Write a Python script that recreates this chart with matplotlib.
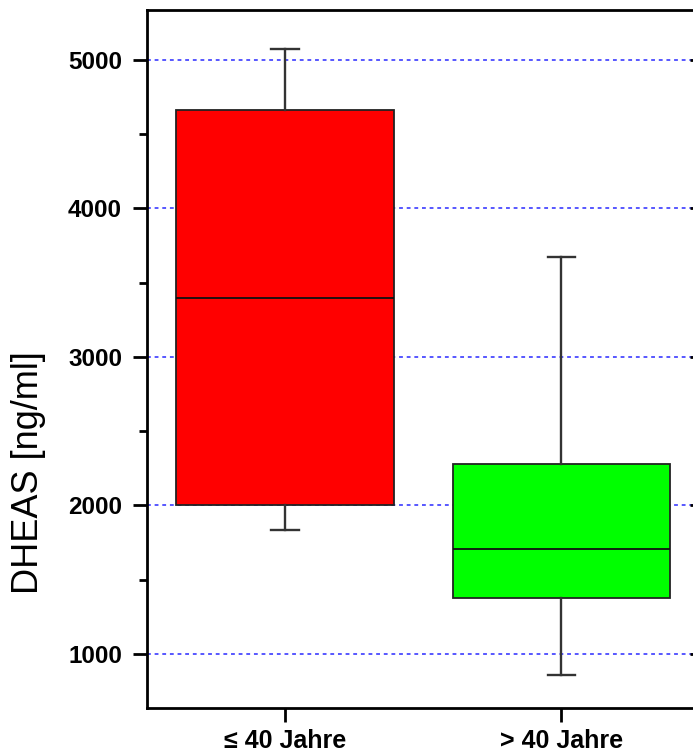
import matplotlib
matplotlib.use("Agg")
import matplotlib.pyplot as plt
from matplotlib.ticker import MultipleLocator

plt.rcParams['font.family'] = ['Liberation Sans', 'DejaVu Sans']

# box statistics (ng/ml)
groups = ["\u2264 40 Jahre", "> 40 Jahre"]
whisker_low = [1832, 859]
q1 = [2005, 1380]
median = [3394, 1710]
q3 = [4663, 2276]
whisker_high = [5074, 3670]
box_colors = ["#ff0000", "#00ff00"]

stats = []
for i, name in enumerate(groups):
    stats.append({
        "label": name,
        "whislo": whisker_low[i],
        "q1": q1[i],
        "med": median[i],
        "q3": q3[i],
        "whishi": whisker_high[i],
    })

fig = plt.figure(figsize=(6.93, 7.56), dpi=100)
ax = fig.add_axes([0.2121, 0.0635, 0.7973, 0.9233])

bp = ax.bxp(
    stats, positions=[1, 2], widths=0.787, patch_artist=True,
    showfliers=False, capwidths=0.1,
    boxprops=dict(edgecolor="#222222", linewidth=1.3),
    medianprops=dict(color="#111111", linewidth=1.3),
    whiskerprops=dict(color="#333333", linewidth=1.7),
    capprops=dict(color="#333333", linewidth=1.7),
)
for patch, c in zip(bp["boxes"], box_colors):
    patch.set_facecolor(c)
    patch.set_zorder(3)
for key in ("medians", "whiskers", "caps"):
    for ln in bp[key]:
        ln.set_zorder(4)

ax.set_xlim(0.5, 2.5)
ax.set_ylim(636, 5337)
ax.yaxis.set_major_locator(MultipleLocator(1000))
ax.yaxis.set_minor_locator(MultipleLocator(500))
ax.set_yticks([1000, 2000, 3000, 4000, 5000])
ax.set_xticks([1, 2])
ax.set_xticklabels(groups)

ax.yaxis.grid(True, which="major", color="#2a2aff", linestyle=(0, (2.5, 2.5)),
              linewidth=1.1, zorder=1)
ax.set_axisbelow(True)

for s in ax.spines.values():
    s.set_linewidth(2)
    s.set_color("black")

ax.tick_params(axis="y", which="major", direction="out", length=10, width=2,
               labelsize=17.5, pad=8)
ax.tick_params(axis="y", which="minor", direction="out", length=5.5, width=2)
ax.tick_params(axis="x", which="major", direction="out", length=10, width=2,
               labelsize=18, pad=5)
for lab in ax.get_yticklabels() + ax.get_xticklabels():
    lab.set_fontweight("bold")

# right-hand axis ticks point inward
ax2 = ax.twinx()
ax2.set_ylim(ax.get_ylim())
ax2.yaxis.set_major_locator(MultipleLocator(1000))
ax2.yaxis.set_minor_locator(MultipleLocator(500))
ax2.tick_params(axis="y", which="major", direction="in", length=7, width=2,
                labelright=False)
ax2.tick_params(axis="y", which="minor", direction="in", length=3.5, width=2)
for s in ax2.spines.values():
    s.set_visible(False)

# the axis title sits below the vertical centre in the original
fig.text(28 / 693, 1 - 473 / 756, "DHEAS [ng/ml]", fontsize=26,
         rotation=90, ha="center", va="center")

fig.savefig("out.png", dpi=100)
